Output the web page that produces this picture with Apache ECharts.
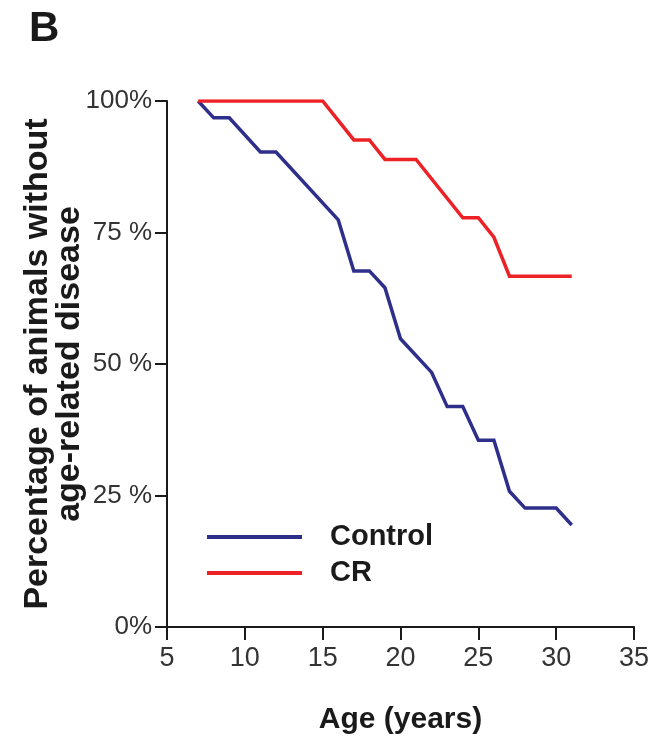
<!DOCTYPE html>
<html>
<head>
<meta charset="utf-8">
<script src="https://cdn.jsdelivr.net/npm/echarts@6/dist/echarts.min.js"></script>
<style>
html,body{margin:0;padding:0;background:#fff;}
#c{width:665px;height:742px;}
</style>
</head>
<body>
<div id="c"></div>
<script>
// Age (years) and % without age-related disease
const controlAges = [7, 8, 9, 11, 12, 16, 17, 18, 19, 20, 22, 23, 24, 25, 26, 27, 28, 30, 31];
const controlPct  = [100, 96.8, 96.8, 90.3, 90.3, 77.4, 67.7, 67.7, 64.5, 54.8, 48.4, 41.9, 41.9, 35.5, 35.5, 25.8, 22.6, 22.6, 19.4];
const crAges = [7, 15, 17, 18, 19, 21, 24, 25, 26, 27, 31];
const crPct  = [100, 100, 92.6, 92.6, 88.9, 88.9, 77.8, 77.8, 74.1, 66.7, 66.7];
const yTickLabels = {0: '0%', 25: '25 %', 50: '50 %', 75: '75 %', 100: '100%'};
const xTicks = [5, 10, 15, 20, 25, 30, 35];

const zip = (a, b) => a.map((v, i) => [v, b[i]]);
const chart = echarts.init(document.getElementById('c'), null, {renderer: 'canvas'});
const narrow = "'Liberation Sans Narrow', 'Arial Narrow', 'Liberation Sans', Arial, sans-serif";
const bold = "'Liberation Sans', Arial, Helvetica, sans-serif";
chart.setOption({
  animation: false,
  backgroundColor: '#fff',
  graphic: [{
    type: 'text', left: 29, top: 8,
    style: {text: 'B', font: 'bold 42px ' + bold, fill: '#1a1a1a'}
  }],
  grid: {left: 167, right: 31, top: 101, bottom: 115, outerBoundsMode: 'none', containLabel: false},
  legend: {
    orient: 'vertical', left: 207, top: 522, padding: 0, itemGap: 6,
    itemWidth: 95, itemHeight: 4, icon: 'rect',
    textStyle: {fontFamily: bold, fontWeight: 'bold', fontSize: 29, color: '#1a1a1a', lineHeight: 30, padding: [0, 0, 0, 23]},
    data: ['Control', 'CR']
  },
  xAxis: {
    type: 'value', min: 5, max: 35, interval: 5,
    name: 'Age (years)', nameLocation: 'middle', nameGap: 78, nameMoveOverlap: false,
    nameTextStyle: {fontFamily: bold, fontWeight: 'bold', fontSize: 30, color: '#1a1a1a'},
    axisLine: {show: true, lineStyle: {color: '#1a1a1a', width: 2}},
    axisTick: {show: true, length: 13, lineStyle: {color: '#1a1a1a', width: 2}},
    axisLabel: {margin: 18, fontFamily: narrow, fontSize: 27, color: '#333',
      formatter: v => xTicks.includes(v) ? String(v) : ''},
    splitLine: {show: false}
  },
  yAxis: {
    type: 'value', min: 0, max: 100, interval: 25,
    name: 'Percentage of animals without\nage-related disease',
    nameLocation: 'middle', nameRotate: 90, nameGap: 81, nameMoveOverlap: false,
    nameTextStyle: {fontFamily: bold, fontWeight: 'bold', fontSize: 34, lineHeight: 32, color: '#1a1a1a', align: 'center'},
    axisLine: {show: true, lineStyle: {color: '#1a1a1a', width: 2}},
    axisTick: {show: true, length: 12, lineStyle: {color: '#1a1a1a', width: 2}},
    axisLabel: {margin: 15, fontFamily: narrow, fontSize: 26, color: '#333',
      formatter: v => yTickLabels[v] !== undefined ? yTickLabels[v] : ''},
    splitLine: {show: false}
  },
  series: [
    {name: 'Control', type: 'line', data: zip(controlAges, controlPct), showSymbol: false, symbol: 'none',
      itemStyle: {color: '#2e2f8a'}, lineStyle: {color: '#2e2f8a', width: 3.5, join: 'miter'}},
    {name: 'CR', type: 'line', data: zip(crAges, crPct), showSymbol: false, symbol: 'none',
      itemStyle: {color: '#ec2227'}, lineStyle: {color: '#ec2227', width: 3.5, join: 'miter'}}
  ]
});
</script>
</body>
</html>
